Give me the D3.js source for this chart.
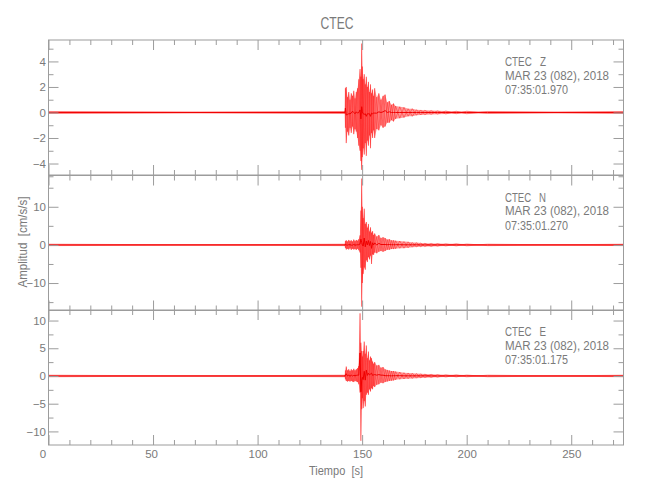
<!DOCTYPE html>
<html><head><meta charset="utf-8">
<script src="https://cdn.jsdelivr.net/npm/d3@7"></script>
<style>
body{margin:0;background:#fff}
text{font-family:"Liberation Sans",sans-serif;fill:#7a7a7a}
</style>
</head><body><svg id="c" width="650" height="500"></svg>
<script>
// time knots (s) at which the trace envelope was read
const timeKnots = [0,141.8,142.0,142.4,143,143.6,144.2,144.8,145.4,146,146.6,147.2,147.8,148.4,149.0,149.4,149.8,150.1,150.5,151,151.5,152,152.5,153,153.5,154,154.5,155,155.5,156,157,158,159,160,161,162,163,164,165,166,168,170,172,174,176,178,180,183,186,190,195,200,210,275];

// Z component envelope (cm/s/s)
const zMax = [0.08,0.08,1.9,2.0,1.2,1.6,1.0,1.5,1.3,1.7,1.1,1.6,1.9,2.6,3.4,2.8,5.4,3.6,2.6,3.0,2.2,2.8,2.0,2.4,1.6,2.2,1.5,1.8,1.3,1.9,1.2,1.5,1.0,1.3,1.4,0.8,0.9,0.6,0.7,0.5,0.45,0.4,0.3,0.3,0.22,0.2,0.18,0.15,0.13,0.12,0.1,0.1,0.08,0.08];
const zMin = [-0.08,-0.08,-1.2,-2.4,-1.5,-1.8,-1.2,-1.6,-1.1,-1.7,-1.3,-1.5,-2.0,-2.6,-3.0,-3.8,-4.5,-3.5,-2.8,-3.3,-2.4,-3.4,-2.2,-2.6,-1.8,-2.8,-1.6,-2.0,-1.4,-2.0,-1.3,-1.4,-1.0,-1.2,-1.1,-0.8,-0.8,-0.6,-0.7,-0.5,-0.45,-0.4,-0.3,-0.3,-0.22,-0.2,-0.18,-0.15,-0.13,-0.12,-0.1,-0.1,-0.08,-0.08];

// N component envelope
const nMax = [0.2,0.2,1.0,1.2,0.9,1.3,1.0,1.2,0.9,1.4,1.0,1.3,1.1,1.5,2.5,9.0,17.4,10,7.0,9.5,5.5,6.0,4.5,5.5,3.5,4.6,3.2,3.6,2.6,3.0,2.2,2.6,1.8,2.0,1.8,1.4,1.5,1.2,1.2,1.1,1.0,0.9,0.8,0.65,0.6,0.5,0.45,0.4,0.35,0.3,0.3,0.25,0.2,0.2];
const nMin = [-0.2,-0.2,-0.8,-1.2,-1.0,-1.2,-0.9,-1.3,-1.0,-1.2,-1.1,-1.3,-1.0,-1.4,-2.0,-6.0,-16.2,-10,-7.6,-5.9,-6.5,-4.0,-4.5,-3.2,-3.8,-2.8,-5.0,-2.5,-2.6,-2.0,-2.2,-1.8,-1.6,-1.8,-1.6,-1.3,-1.3,-1.1,-1.1,-1.0,-0.9,-0.85,-0.75,-0.6,-0.55,-0.5,-0.45,-0.4,-0.35,-0.3,-0.28,-0.25,-0.2,-0.2];

// E component envelope
const eMax = [0.15,0.15,1.0,1.7,1.0,1.2,0.9,1.2,1.0,1.3,1.0,1.2,1.4,1.8,11.3,6.0,4.5,3.5,4.5,6.2,4.0,5.5,3.2,4.4,2.8,3.5,3.2,2.6,2.2,2.5,1.9,2.0,1.5,1.6,1.2,1.1,1.0,0.9,0.9,0.8,0.7,0.6,0.55,0.5,0.45,0.4,0.35,0.3,0.25,0.22,0.2,0.18,0.15,0.15];
const eMin = [-0.15,-0.15,-0.6,-0.9,-1.0,-0.9,-1.0,-0.9,-1.0,-1.1,-0.9,-1.0,-1.1,-1.5,-3.0,-11.7,-6.0,-4.0,-5.8,-4.5,-5.5,-3.4,-3.0,-3.4,-2.4,-2.8,-2.2,-2.4,-1.8,-2.0,-1.6,-1.5,-1.2,-1.3,-1.1,-1.0,-0.9,-0.85,-0.8,-0.7,-0.6,-0.55,-0.5,-0.45,-0.4,-0.35,-0.3,-0.28,-0.24,-0.2,-0.18,-0.16,-0.15,-0.15];

const stationName = "CTEC";
const components = ["Z","N","E"];
const dateLabel = "MAR 23 (082), 2018";
const startTimes = ["07:35:01.970","07:35:01.270","07:35:01.175"];
const yDomains = [[-4.9,5.68],[-17.2,18.2],[-12.45,11.9]];
const yMajorTicks = [[-4,-2,0,2,4],[-10,0,10],[-10,-5,0,5,10]];
const yMinorTicks = [[-5,-3,-1,1,3,5],[-15,-5,5,15],[-7.5,-2.5,2.5,7.5]];
const xMajorTicks = [0,50,100,150,200,250];
const xMinorTicks = [10,20,30,40,60,70,80,90,110,120,130,140,160,170,180,190,210,220,230,240,260,270];
const xDomain = [0,275];

const series = [[zMax,zMin],[nMax,nMin],[eMax,eMin]];

const svg = d3.select("#c");
const left = 48.5, right = 623.5;
const panelTops = [40, 175.5, 310];
const panelH = 135;
const axisCol = "#9c9c9c";
const txtCol = "#7a7a7a";

const x = d3.scaleLinear().domain(xDomain).range([left, right]);

svg.append("text").attr("x", 337).attr("y", 29).attr("text-anchor","middle")
  .style("font-size","17px").attr("textLength",33).attr("lengthAdjust","spacingAndGlyphs").text(stationName);

components.forEach((comp, p) => {
  const top = panelTops[p], bottom = top + panelH;
  const y = d3.scaleLinear().domain(yDomains[p]).range([bottom, top]);
  const g = svg.append("g");
  const [mx, mn] = series[p];
  const pts = timeKnots.map((t,i)=>({t, hi: mx[i], lo: mn[i]}));

  // envelope fill
  g.append("path").datum(pts)
    .attr("d", d3.area().x(d=>x(d.t)).y0(d=>y(d.lo)).y1(d=>y(d.hi)))
    .attr("fill","#ff3030").attr("fill-opacity",0.5);
  // oscillating trace between the read extremes
  const zig1 = pts.map((d,i)=>[d.t, i%2===0 ? d.hi : d.lo]);
  const zig2 = pts.map((d,i)=>[d.t, i%2===0 ? d.lo : d.hi]);
  const line = d3.line().x(d=>x(d[0])).y(d=>y(d[1]));
  [zig1, zig2].forEach(z => g.append("path").datum(z).attr("d", line)
    .attr("fill","none").attr("stroke","#ff0000").attr("stroke-opacity",0.75).attr("stroke-width",0.5));
  g.append("path").datum(pts.map(d=>[d.t,(d.hi+d.lo)/2]))
    .attr("d", line).attr("fill","none").attr("stroke","#f00000").attr("stroke-width",1);

  // axes
  const ax = svg.append("g").attr("class","axes");
  const styleAxis = sel => { sel.select(".domain").remove(); sel.selectAll("line").attr("stroke",axisCol); sel.selectAll("text").style("font-size","11.5px").attr("fill",txtCol); };
  ax.append("g").attr("transform",`translate(${left},0)`)
    .call(d3.axisLeft(y).tickValues(yMajorTicks[p]).tickSize(-10).tickPadding(2.5).tickFormat(d3.format("d")))
    .call(styleAxis);
  ax.append("g").attr("transform",`translate(${left},0)`)
    .call(d3.axisLeft(y).tickValues(yMinorTicks[p]).tickSize(-5).tickFormat(""))
    .call(styleAxis);
  ax.append("g").attr("transform",`translate(${right},0)`)
    .call(d3.axisRight(y).tickValues(yMajorTicks[p]).tickSize(-10).tickFormat(""))
    .call(styleAxis);
  ax.append("g").attr("transform",`translate(${right},0)`)
    .call(d3.axisRight(y).tickValues(yMinorTicks[p]).tickSize(-5).tickFormat(""))
    .call(styleAxis);
  // top and bottom ticks
  ax.append("g").attr("transform",`translate(0,${top})`)
    .call(d3.axisTop(x).tickValues(xMajorTicks).tickSize(-10).tickFormat("")).call(styleAxis);
  ax.append("g").attr("transform",`translate(0,${top})`)
    .call(d3.axisTop(x).tickValues(xMinorTicks).tickSize(-5).tickFormat("")).call(styleAxis);
  const bot = ax.append("g").attr("transform",`translate(0,${bottom})`)
    .call(d3.axisBottom(x).tickValues(xMajorTicks).tickSize(-10).tickPadding(0)
      .tickFormat(p===2 ? d3.format("d") : "")).call(styleAxis);
  if (p===2) bot.selectAll(".tick text").attr("y",13).attr("dy","0")
      .attr("dx", d => d===0 ? -6 : (d===50 ? -2 : 0));
  ax.append("g").attr("transform",`translate(0,${bottom})`)
    .call(d3.axisBottom(x).tickValues(xMinorTicks).tickSize(-5).tickFormat("")).call(styleAxis);
  ax.append("rect").attr("x",left).attr("y",top).attr("width",right-left).attr("height",panelH)
    .attr("fill","none").attr("stroke",axisCol).attr("stroke-width",1);

  // annotation
  const ann = svg.append("g").style("font-size","12.5px");
  ann.append("text").attr("x",505).attr("y",top+26).attr("xml:space","preserve")
    .style("white-space","pre").attr("textLength",41).attr("lengthAdjust","spacingAndGlyphs")
    .text(stationName + "   " + comp);
  ann.append("text").attr("x",505).attr("y",top+39.5)
    .attr("textLength",104).attr("lengthAdjust","spacingAndGlyphs").text(dateLabel);
  ann.append("text").attr("x",505).attr("y",top+54)
    .attr("textLength",63).attr("lengthAdjust","spacingAndGlyphs").text(startTimes[p]);
});

svg.append("text").attr("x",336).attr("y",475).attr("text-anchor","middle")
  .style("font-size","12px").attr("xml:space","preserve").style("white-space","pre")
  .attr("textLength",54).attr("lengthAdjust","spacingAndGlyphs").text("Tiempo  [s]");
svg.append("text").attr("transform","translate(27,242) rotate(-90)").attr("text-anchor","middle")
  .style("font-size","12px").attr("xml:space","preserve").style("white-space","pre")
  .attr("textLength",91).attr("lengthAdjust","spacingAndGlyphs").text("Amplitud  [cm/s/s]");
</script>
</body></html>
